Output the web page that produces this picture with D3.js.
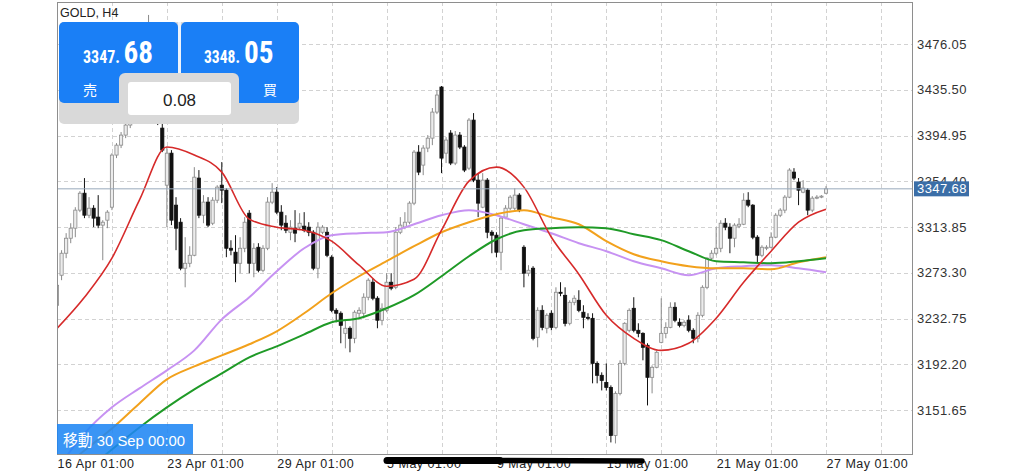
<!DOCTYPE html>
<html><head><meta charset="utf-8">
<script src="https://cdn.jsdelivr.net/npm/d3@7"></script>
<style>body{margin:0;background:#fff}svg{display:block}</style>
</head><body><svg id="c" width="1024" height="473"></svg>
<script>
const candleOpen=[
3244.5,3271.1,3290.6,3303.9,3312.8,3328.8,3343.8,3324.3,3330.5,3322.6,
3315.5,3319.9,3331.4,3377.6,3386.4,3395.3,3404.2,3421.9,3444.1,3435.2,
3470.7,3479.6,3435.2,3401.5,3350.9,3379.3,3333.2,3318.1,3277.3,3281.7,
3288.8,3357.2,3324.3,3335.9,3317.2,3337.6,3350.9,3346.5,3295.0,3291.5,
3281.7,3295.0,3326.1,3281.7,3295.9,3275.5,3295.0,3335.9,3344.7,3327.0,
3317.2,3309.2,3312.8,3313.7,3314.6,3313.7,3309.2,3277.3,3309.2,3309.2,
3287.1,3240.0,3237.4,3219.6,3224.1,3215.2,3237.4,3237.4,3251.6,3264.9,
3250.7,3231.2,3240.0,3264.9,3260.4,3309.2,3313.7,3318.1,3335.0,3380.2,
3368.7,3383.8,3392.6,3415.7,3437.9,3379.3,3397.1,3370.5,3395.3,3384.7,
3366.0,3408.6,3355.4,3331.4,3355.4,3309.2,3306.6,3291.5,3322.6,3330.5,
3330.5,3342.1,3295.9,3272.9,3277.3,3216.1,3240.0,3224.1,3237.4,3224.9,
3256.0,3253.3,3228.5,3247.1,3248.9,3238.3,3233.8,3232.9,3193.0,3182.4,
3176.1,3171.7,3129.1,3166.4,3193.0,3222.3,3241.8,3222.3,3219.6,3209.0,
3180.6,3189.5,3211.6,3219.6,3224.9,3242.7,3229.4,3226.7,3231.2,3222.3,
3215.2,3235.6,3260.4,3286.2,3290.6,3295.0,3317.2,3313.7,3303.9,3314.6,
3316.3,3337.6,3333.2,3304.8,3288.8,3295.0,3295.9,3304.8,3324.3,3328.8,
3340.3,3362.5,3353.6,3344.7,3346.5,3328.8,3339.4,3340.3,3343.8];
const candleHigh=[
3272.9,3293.3,3308.4,3317.2,3331.4,3345.6,3357.2,3340.3,3333.2,3342.1,
3319.9,3328.8,3379.3,3388.2,3398.0,3408.6,3426.4,3448.5,3461.9,3479.6,
3501.8,3488.5,3439.7,3406.8,3384.7,3382.0,3340.3,3321.7,3304.8,3296.8,
3366.9,3364.3,3342.1,3340.3,3340.3,3350.9,3371.4,3348.3,3302.1,3306.6,
3304.8,3322.6,3328.8,3299.5,3299.5,3297.7,3340.3,3352.7,3349.2,3333.2,
3324.3,3319.9,3328.8,3326.1,3327.0,3318.1,3311.0,3318.1,3315.5,3313.7,
3288.8,3241.8,3239.1,3231.2,3225.8,3240.0,3242.7,3255.1,3268.4,3268.4,
3252.5,3246.2,3272.9,3272.9,3313.7,3322.6,3327.0,3336.7,3382.0,3386.4,
3386.4,3395.3,3419.3,3435.2,3438.8,3393.5,3399.7,3398.9,3398.0,3386.4,
3410.4,3414.8,3361.6,3361.6,3357.2,3311.0,3309.2,3323.4,3333.2,3342.1,
3348.3,3343.8,3297.7,3280.0,3279.1,3242.7,3244.5,3237.4,3240.0,3260.4,
3264.9,3260.4,3248.9,3253.3,3257.8,3244.5,3237.4,3237.4,3194.8,3185.0,
3193.0,3173.5,3168.2,3195.7,3229.4,3241.8,3251.6,3228.5,3220.5,3210.8,
3191.2,3204.5,3250.7,3229.4,3247.1,3247.1,3232.9,3231.2,3235.6,3224.1,
3238.3,3262.2,3287.1,3293.3,3313.7,3319.9,3321.7,3317.2,3317.2,3321.7,
3343.8,3344.7,3334.1,3306.6,3297.7,3297.7,3309.2,3326.1,3330.5,3342.1,
3366.0,3366.0,3357.2,3355.4,3348.3,3341.2,3342.1,3342.1,3350.1];
const candleLow=[
3231.2,3266.7,3286.2,3299.5,3304.8,3327.0,3321.7,3321.7,3313.7,3312.8,
3284.4,3312.8,3328.8,3374.9,3383.8,3392.6,3401.5,3417.5,3430.8,3430.8,
3466.3,3426.4,3404.2,3380.2,3313.7,3315.5,3293.3,3275.5,3260.4,3278.2,
3287.9,3321.7,3317.2,3313.7,3315.5,3335.0,3335.0,3287.1,3288.8,3264.9,
3272.9,3291.5,3272.9,3269.3,3273.7,3273.7,3293.3,3334.1,3325.2,3311.0,
3308.4,3302.1,3300.4,3311.0,3309.2,3305.7,3275.5,3268.4,3307.5,3287.1,
3238.3,3229.4,3210.8,3206.3,3202.8,3210.8,3233.8,3232.9,3248.9,3248.9,
3224.1,3226.7,3238.3,3257.8,3258.7,3307.5,3311.9,3316.3,3333.2,3359.8,
3359.8,3380.2,3386.4,3413.9,3361.6,3370.5,3368.7,3368.7,3382.9,3362.5,
3364.3,3353.6,3322.6,3330.5,3303.9,3290.6,3287.1,3275.5,3320.8,3328.8,
3328.8,3327.0,3260.4,3270.2,3213.4,3207.2,3222.3,3219.6,3222.3,3223.2,
3252.5,3225.8,3226.7,3244.5,3238.3,3224.1,3231.2,3175.3,3175.3,3169.0,
3169.0,3122.9,3122.0,3164.6,3191.2,3220.5,3220.5,3216.1,3195.7,3155.7,
3166.4,3188.6,3210.8,3215.2,3224.1,3229.4,3224.9,3224.9,3220.5,3210.8,
3211.6,3233.8,3258.7,3284.4,3288.8,3291.5,3311.0,3290.6,3295.9,3312.8,
3315.5,3331.4,3303.0,3282.6,3287.1,3293.3,3295.0,3303.9,3322.6,3326.1,
3339.4,3355.4,3333.2,3343.8,3324.3,3327.0,3338.5,3339.4,3343.0];
const candleClose=[
3262.2,3290.6,3303.9,3312.8,3328.8,3343.8,3324.3,3330.5,3321.7,3315.5,
3318.1,3327.0,3377.6,3386.4,3395.3,3404.2,3421.9,3444.1,3435.2,3470.7,
3492.9,3435.2,3408.6,3382.0,3379.3,3319.9,3312.8,3277.3,3281.7,3288.8,
3358.0,3324.3,3335.9,3315.5,3337.6,3349.2,3346.5,3295.0,3293.3,3281.7,
3295.0,3318.1,3281.7,3295.0,3275.5,3295.0,3335.9,3344.7,3327.0,3315.5,
3311.0,3313.7,3308.4,3317.2,3311.0,3309.2,3277.3,3313.7,3313.7,3288.8,
3240.0,3237.4,3226.7,3224.1,3215.2,3238.3,3240.0,3251.6,3266.7,3250.7,
3231.2,3241.8,3264.9,3259.6,3309.2,3315.5,3318.1,3335.0,3380.2,3362.5,
3383.8,3392.6,3415.7,3430.8,3374.9,3390.9,3370.5,3395.3,3384.7,3364.3,
3408.6,3355.4,3335.0,3355.4,3309.2,3306.6,3291.5,3321.7,3330.5,3340.3,
3342.1,3328.8,3272.9,3275.5,3215.2,3240.0,3224.9,3235.6,3224.9,3256.0,
3255.1,3228.5,3247.1,3250.7,3240.0,3233.8,3232.9,3193.0,3182.4,3177.9,
3171.7,3129.1,3166.4,3193.0,3228.5,3240.0,3222.3,3219.6,3207.2,3180.6,
3189.5,3202.8,3219.6,3224.9,3242.7,3231.2,3226.7,3229.4,3222.3,3215.2,
3235.6,3260.4,3286.2,3290.6,3295.0,3317.2,3313.7,3303.9,3315.5,3316.3,
3337.6,3333.2,3304.8,3288.8,3295.9,3295.9,3304.8,3324.3,3328.8,3340.3,
3364.3,3357.2,3346.5,3348.3,3328.8,3339.4,3340.3,3341.2,3347.68];

const maIndex=[0,6,12,18,24,30,36,42,48,54,60,66,72,78,84,90,96,102,108,114,120,126,132,138,144,150,156,162,168];
const maRed=[3224.0,3251.6,3286.2,3337.6,3384.7,3377.6,3362.5,3320.8,3313.7,3311.0,3301.3,3280.0,3261.3,3267.5,3311.0,3354.5,3366.9,3349.2,3304.8,3272.0,3235.6,3215.2,3204.5,3210.8,3233.0,3264.9,3292.4,3318.1,3329.6];
const maPurple=[3099.0,3130.9,3154.0,3170.8,3186.8,3204.5,3232.0,3251.6,3274.6,3295.0,3306.6,3308.3,3309.2,3316.3,3324.3,3328.8,3324.3,3316.3,3308.3,3299.5,3292.4,3283.5,3277.3,3271.1,3277.3,3279.1,3280.0,3277.3,3273.8];
const maOrange=[3095.4,3115.8,3135.3,3157.5,3178.8,3190.3,3200.1,3209.9,3221.4,3237.4,3255.1,3270.2,3283.5,3296.8,3309.2,3318.1,3325.2,3328.8,3322.5,3316.3,3301.3,3289.7,3283.5,3279.1,3277.3,3277.3,3276.4,3282.6,3287.0];
const maGreen=[3076.8,3096.3,3116.7,3136.2,3154.0,3169.9,3184.1,3198.3,3208.1,3218.7,3229.4,3233.0,3241.8,3253.4,3270.2,3287.9,3303.0,3311.0,3312.8,3313.7,3312.8,3307.5,3302.2,3292.4,3283.5,3282.6,3281.7,3283.5,3286.2];

const priceTicks=[3476.05,3435.50,3394.95,3354.40,3313.85,3273.30,3232.75,3192.20,3151.65];
const dateTickIdx=[0,24,48,72,96,120,144,168];
const dateLabels=["16 Apr 01:00","23 Apr 01:00","29 Apr 01:00","5 May 01:00","9 May 01:00","15 May 01:00","21 May 01:00","27 May 01:00"];
const gridIdx=[12,24,36,48,60,72,84,96,108,120,132,144,156,168,180];
const symbolTitle="GOLD, H4";
const bidMain="3347.", bidFrac="68", askMain="3348.", askFrac="05";
const currentPrice=3347.68;
const spreadText="0.08";
const sellLabel="売", buyLabel="買";
const scrollLabel="移動 30 Sep 00:00";

const L=57,R=913,T=2,B=454;
const svg=d3.select("#c");
const x=d3.scaleLinear().domain([0,187]).range([L,R]);
const y=d3.scaleLinear().domain([3112.65,3513.28]).range([B,T]);
const font="'Liberation Sans',Arial,sans-serif";

svg.append("defs").append("clipPath").attr("id","pc").append("rect")
  .attr("x",L).attr("y",T).attr("width",R-L).attr("height",B-T);

// grid
const g=svg.append("g");
g.selectAll(".hg").data(priceTicks).join("line")
  .attr("x1",L).attr("x2",R).attr("y1",d=>Math.round(y(d))+0.5).attr("y2",d=>Math.round(y(d))+0.5)
  .attr("stroke","#d2d2d2").attr("stroke-dasharray","4,3");
g.selectAll(".vg").data(gridIdx).join("line")
  .attr("y1",T).attr("y2",B).attr("x1",d=>Math.round(x(d))+0.5).attr("x2",d=>Math.round(x(d))+0.5)
  .attr("stroke","#d2d2d2").attr("stroke-dasharray","4,3");

// candles
const cg=svg.append("g").attr("clip-path","url(#pc)");
const idx=d3.range(candleOpen.length);
const bw=3.2;
cg.selectAll(".wick").data(idx).join("line")
  .attr("x1",i=>x(i)).attr("x2",i=>x(i))
  .attr("y1",i=>y(candleHigh[i])).attr("y2",i=>y(candleLow[i]))
  .attr("stroke",i=>candleClose[i]>=candleOpen[i]?"#8a8a8a":"#111").attr("stroke-width",1);
cg.selectAll(".body").data(idx).join("rect")
  .attr("x",i=>x(i)-bw/2).attr("width",bw)
  .attr("y",i=>y(Math.max(candleOpen[i],candleClose[i])))
  .attr("height",i=>Math.max(1,Math.abs(y(candleOpen[i])-y(candleClose[i]))))
  .attr("fill",i=>candleClose[i]>=candleOpen[i]?"#ececec":"#111")
  .attr("stroke",i=>candleClose[i]>=candleOpen[i]?"#8a8a8a":"#111")
  .attr("stroke-width",0.8);

// moving averages
const mg=svg.append("g").attr("clip-path","url(#pc)");
const line=d3.line().x(d=>x(d[0])).y(d=>y(d[1])).curve(d3.curveMonotoneX);
[[maPurple,"#c792f2",2],[maOrange,"#f2a11c",2],[maGreen,"#1f9a27",2],[maRed,"#d62a2a",1.6]].forEach(([arr,col,w])=>{
  mg.append("path").attr("d",line(maIndex.map((k,j)=>[k,arr[j]])))
    .attr("fill","none").attr("stroke",col).attr("stroke-width",w);
});

// current price line
svg.append("line").attr("x1",L).attr("x2",R)
  .attr("y1",y(currentPrice)).attr("y2",y(currentPrice))
  .attr("stroke","#98a9bb").attr("stroke-width",1);

// border
svg.append("rect").attr("x",L+0.5).attr("y",T+0.5).attr("width",R-L-1).attr("height",B-T)
  .attr("fill","none").attr("stroke","#8e8e8e");

// right axis
const ra=svg.append("g").attr("transform",`translate(${R},0)`)
  .call(d3.axisRight(y).tickValues(priceTicks).tickSize(0).tickPadding(4).tickFormat(d=>d.toFixed(2)));
ra.select(".domain").remove();
ra.selectAll("text").attr("font-family",font).attr("font-size",13).attr("fill","#333").attr("letter-spacing","0.4px");

// bottom axis
const ba=svg.append("g").attr("transform",`translate(0,${B})`)
  .call(d3.axisBottom(x).tickValues(dateTickIdx).tickSize(0).tickFormat((d,i)=>dateLabels[i]));
ba.select(".domain").remove();
ba.selectAll("text").attr("font-family",font).attr("font-size",12.5).attr("fill","#222")
  .attr("letter-spacing","0.5px").attr("text-anchor","start").attr("y",14).attr("dy",0);

// price tag (covers the nearby axis label, as in the original)
svg.append("rect").attr("x",914).attr("y",y(currentPrice)-7.5).attr("width",55).attr("height",15).attr("fill","#3b6ea7");
svg.append("text").attr("x",917).attr("y",y(currentPrice)+4.5).text(currentPrice.toFixed(2))
  .attr("font-family",font).attr("font-size",13).attr("fill","#fff").attr("letter-spacing","0.4px");

// scribble over date labels
svg.append("path").attr("d","M387,460.5 L500,460.5").attr("stroke","#000").attr("stroke-width",7).attr("stroke-linecap","round");
svg.append("path").attr("d","M495,460.5 L642,461").attr("stroke","#000").attr("stroke-width",5.5).attr("stroke-linecap","round");

// title
svg.append("text").attr("x",60).attr("y",17).text(symbolTitle)
  .attr("font-family",font).attr("font-size",12.5).attr("fill","#222");

// trade panel
const p=svg.append("g");
p.append("rect").attr("x",59).attr("y",22).attr("width",240).attr("height",102).attr("rx",5).attr("fill","#d9d9d9");
p.append("rect").attr("x",178).attr("y",22).attr("width",3).attr("height",52).attr("fill","#eef3fb");
p.append("rect").attr("x",59).attr("y",22).attr("width",119).attr("height",81).attr("rx",5).attr("fill","#1a7ff6");
p.append("rect").attr("x",181).attr("y",22).attr("width",118).attr("height",81).attr("rx",5).attr("fill","#1a7ff6");
p.append("rect").attr("x",119).attr("y",73).attr("width",120).attr("height",51).attr("rx",6).attr("fill","#d9d9d9");
p.append("rect").attr("x",128).attr("y",82).attr("width",103).attr("height",33).attr("rx",3).attr("fill","#fff");
const nf="'Liberation Sans Narrow','Roboto Condensed','Liberation Sans',Arial,sans-serif";
const tx=(xx,yy,s,sz,len)=>p.append("text").attr("x",xx).attr("y",yy).text(s)
  .attr("font-family",nf).attr("font-size",sz).attr("font-weight","bold").attr("fill","#fff")
  .attr("textLength",len).attr("lengthAdjust","spacingAndGlyphs");
tx(83,63,bidMain,18,37);
tx(123.5,63,bidFrac,32,29.5);
tx(204,63,askMain,18,36);
tx(244,63,askFrac,32,29.5);
p.append("text").attr("x",90).attr("y",95).text(sellLabel).attr("text-anchor","middle")
  .attr("font-family","'Noto Sans CJK JP',sans-serif").attr("font-size",14).attr("fill","#fff");
p.append("text").attr("x",270).attr("y",95).text(buyLabel).attr("text-anchor","middle")
  .attr("font-family","'Noto Sans CJK JP',sans-serif").attr("font-size",14).attr("fill","#fff");
p.append("text").attr("x",179.5).attr("y",106).text(spreadText).attr("text-anchor","middle")
  .attr("font-family",font).attr("font-size",17).attr("fill","#222");

// scroll box (semi-transparent, lines show through)
svg.append("rect").attr("x",57).attr("y",424).attr("width",136).attr("height",30).attr("fill","#1f86f4").attr("fill-opacity",0.88);
svg.append("text").attr("x",63).attr("y",445.5).text(scrollLabel)
  .attr("font-family","'Liberation Sans','Noto Sans CJK JP',sans-serif").attr("font-size",15.5).attr("fill","#fff")
  .attr("textLength",122).attr("lengthAdjust","spacingAndGlyphs");
</script></body></html>
